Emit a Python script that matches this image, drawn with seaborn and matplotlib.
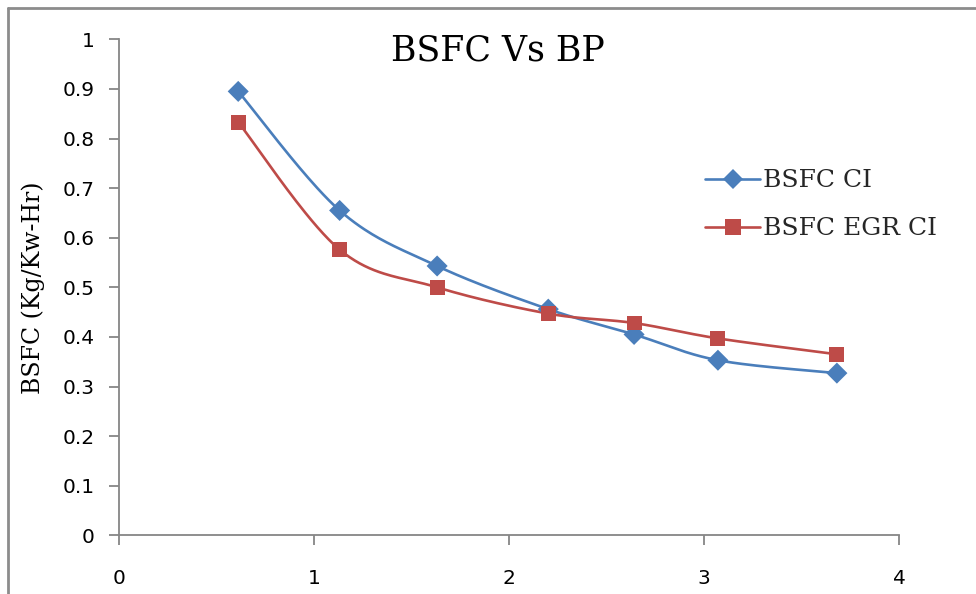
import numpy as np
import pandas as pd
import matplotlib
matplotlib.use("Agg")
import matplotlib.pyplot as plt
from matplotlib.lines import Line2D
import seaborn as sns

# Brake power (kW) and brake specific fuel consumption (kg/kW-hr)
bp = [0.61, 1.13, 1.63, 2.20, 2.64, 3.07, 3.68]
bsfc_ci = [0.895, 0.655, 0.543, 0.456, 0.405, 0.353, 0.327]
bsfc_egr_ci = [0.833, 0.576, 0.500, 0.447, 0.428, 0.397, 0.365]
series_names = ["BSFC CI", "BSFC EGR CI"]

BLUE = "#4A7EBB"
RED = "#BE4B48"
AXIS_GREY = "#868686"


def smooth_curve(x, y, steps=40):
    """Cardinal (Catmull-Rom) Bezier smoothing through the given points."""
    x = np.asarray(x, float)
    y = np.asarray(y, float)
    pts = np.column_stack([x, y])
    n = len(pts)
    out = []
    t = np.linspace(0, 1, steps)
    for i in range(n - 1):
        p0 = pts[i - 1] if i > 0 else pts[i]
        p1 = pts[i]
        p2 = pts[i + 1]
        p3 = pts[i + 2] if i + 2 < n else pts[i + 1]
        c1 = p1 + (p2 - p0) / 6.0
        c2 = p2 - (p3 - p1) / 6.0
        seg = ((1 - t)[:, None] ** 3 * p1 + 3 * ((1 - t) ** 2 * t)[:, None] * c1
               + 3 * ((1 - t) * t ** 2)[:, None] * c2 + (t ** 3)[:, None] * p2)
        out.append(seg if i == 0 else seg[1:])
    seg = np.vstack(out)
    return seg[:, 0], seg[:, 1]


sns.set_theme(style="white")
plt.rcParams["font.family"] = ["DejaVu Sans"]

df = pd.DataFrame({
    "BP": bp * 2,
    "BSFC": bsfc_ci + bsfc_egr_ci,
    "Series": [series_names[0]] * len(bp) + [series_names[1]] * len(bp),
})

fig = plt.figure(figsize=(9.76, 5.94), dpi=100)
ax = fig.add_axes([0.1222, 0.0988, 0.7992, 0.835])

# smoothed connecting lines
for vals, col in [(bsfc_ci, BLUE), (bsfc_egr_ci, RED)]:
    sx, sy = smooth_curve(bp, vals)
    sns.lineplot(x=sx, y=sy, ax=ax, color=col, linewidth=1.9, sort=False,
                 estimator=None, legend=False, zorder=2)

# markers at the measured points
sns.scatterplot(data=df, x="BP", y="BSFC", hue="Series", style="Series",
                palette=[BLUE, RED], markers=["D", "s"], s=115,
                linewidth=0, ax=ax, legend=False, zorder=3)

ax.set_xlim(0, 4)
ax.set_ylim(0, 1)
ax.set_xticks([0, 1, 2, 3, 4])
ax.set_xticklabels(["0", "1", "2", "3", "4"])
ax.set_yticks(np.round(np.arange(0, 1.01, 0.1), 1))
ax.set_yticklabels(["0", "0.1", "0.2", "0.3", "0.4", "0.5", "0.6", "0.7",
                    "0.8", "0.9", "1"])
ax.set_xlabel("")
ax.set_ylabel("")

for side in ["top", "right"]:
    ax.spines[side].set_visible(False)
for side in ["left", "bottom"]:
    ax.spines[side].set_color(AXIS_GREY)
    ax.spines[side].set_linewidth(1.3)
ax.tick_params(axis="both", direction="out", length=7, width=1.3,
               color=AXIS_GREY, labelsize=14.5, labelcolor="black",
               left=True, bottom=True)
ax.tick_params(axis="x", pad=17)
ax.tick_params(axis="y", pad=11)
ax.grid(False)

# title and axis title
serif = ["DejaVu Serif"]
fig.text(0.51, 0.915, "BSFC Vs BP", ha="center", va="center",
         family=serif, fontsize=25, color="black")
fig.text(0.034, 0.515, "BSFC (Kg/Kw-Hr)", ha="center", va="center",
         rotation=90, family=serif, fontsize=17, color="black")

# legend
handles = [
    Line2D([], [], color=BLUE, lw=1.9, marker="D", markersize=10,
           markeredgewidth=0),
    Line2D([], [], color=RED, lw=1.9, marker="s", markersize=11,
           markeredgewidth=0),
]
ax.legend(handles, series_names, loc="upper left",
          bbox_to_anchor=(0.751, 0.738), frameon=False,
          prop={"family": serif, "size": 18}, handlelength=2.2,
          handletextpad=0.12, labelspacing=1.0, borderaxespad=0,
          borderpad=0)

# chart frame
fig.add_artist(Line2D([0.0082, 1.0], [0.9865, 0.9865], color="#8C8C8C",
                      lw=2, transform=fig.transFigure))
fig.add_artist(Line2D([0.0082, 0.0082], [0.0, 0.9865], color="#8C8C8C",
                      lw=2, transform=fig.transFigure))

fig.savefig("out.png", dpi=100, facecolor="white")
